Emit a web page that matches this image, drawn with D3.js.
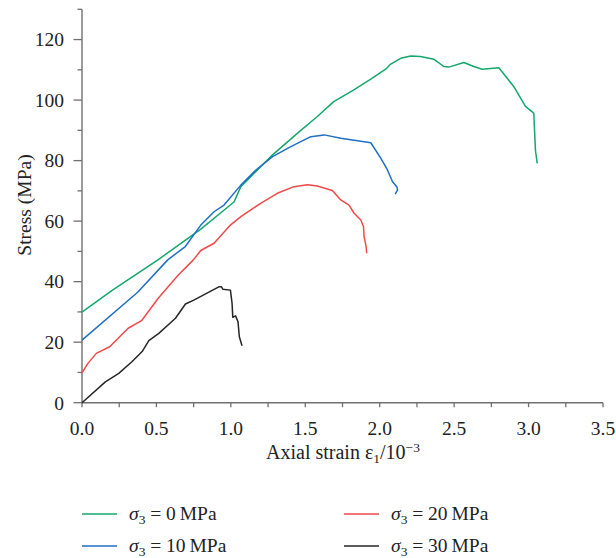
<!DOCTYPE html>
<html>
<head>
<meta charset="utf-8">
<script src="https://cdn.jsdelivr.net/npm/d3@7"></script>
<style>
  html, body { margin: 0; padding: 0; background: #fff; }
  svg { display: block; }
  text { font-family: "Liberation Serif", "DejaVu Serif", serif; fill: #222; }
</style>
</head>
<body>
<svg id="chart" width="616" height="558"></svg>
<script>
// Axial strain (10^-3) and stress (MPa) for each confining pressure
const strain0  = [0, 0.2, 0.51, 0.796, 0.988, 1.022, 1.067, 1.28, 1.468, 1.579, 1.691, 1.826, 1.94, 2.04, 2.074, 2.141, 2.208, 2.274, 2.363, 2.386, 2.43, 2.464, 2.565, 2.632, 2.688, 2.8, 2.9, 2.979, 3.035, 3.046, 3.058];
const stress0  = [29.9, 37.0, 47.2, 57.3, 65.0, 66.4, 71.4, 81.9, 89.9, 94.5, 99.5, 103.4, 106.9, 110.2, 111.9, 113.8, 114.6, 114.4, 113.5, 112.7, 111.1, 110.9, 112.4, 111.1, 110.2, 110.7, 104.5, 97.9, 95.7, 83.5, 79.1];

const strain10 = [0, 0.374, 0.576, 0.694, 0.798, 0.887, 0.954, 1.067, 1.168, 1.28, 1.403, 1.537, 1.627, 1.739, 1.94, 2.007, 2.052, 2.086, 2.115, 2.12, 2.104];
const stress10 = [20.7, 36.5, 47.2, 51.6, 58.7, 63.1, 65.3, 71.9, 76.9, 81.3, 84.6, 87.9, 88.5, 87.4, 85.9, 80.8, 76.9, 73.0, 71.4, 70.3, 68.9];

const strain20 = [0, 0.04, 0.096, 0.186, 0.31, 0.4, 0.512, 0.647, 0.748, 0.798, 0.887, 0.997, 1.067, 1.2, 1.312, 1.424, 1.514, 1.58, 1.682, 1.738, 1.794, 1.828, 1.873, 1.891, 1.895, 1.907, 1.913];
const stress20 = [9.9, 13.0, 16.3, 18.5, 24.6, 27.1, 34.5, 42.2, 47.2, 50.3, 52.7, 58.7, 61.5, 65.9, 69.2, 71.4, 72.0, 71.6, 70.1, 67.0, 65.3, 62.6, 60.4, 58.2, 54.9, 52.1, 49.4];

const strain30 = [0, 0.157, 0.247, 0.337, 0.404, 0.449, 0.516, 0.628, 0.695, 0.751, 0.919, 0.937, 0.946, 0.997, 1.008, 1.013, 1.031, 1.048, 1.057, 1.075];
const stress30 = [0, 6.9, 9.7, 13.6, 16.9, 20.5, 22.9, 27.9, 32.6, 33.9, 38.3, 38.3, 37.5, 37.2, 32.9, 28.2, 28.7, 26.8, 21.8, 18.8];

const pressures = [0, 10, 20, 30];
const colors = ["#14a86c", "#1f6fc4", "#f04a4a", "#262626"];

const xTicksMajor = [0, 0.5, 1.0, 1.5, 2.0, 2.5, 3.0, 3.5];
const yTicksMajor = [0, 20, 40, 60, 80, 100, 120];

const series = [
  { p: pressures[0], x: strain0,  y: stress0,  color: colors[0] },
  { p: pressures[1], x: strain10, y: stress10, color: colors[1] },
  { p: pressures[2], x: strain20, y: stress20, color: colors[2] },
  { p: pressures[3], x: strain30, y: stress30, color: colors[3] }
];

const svg = d3.select("#chart");
const x = d3.scaleLinear().domain([0, 3.5]).range([82, 603]);
const y = d3.scaleLinear().domain([0, 130]).range([402.7, 9.3]);
const axisColor = "#707070";

// X axis
const gx = svg.append("g").attr("transform", `translate(0,${y(0)})`);
gx.append("line").attr("x1", x(0)).attr("x2", x(3.5)).attr("stroke", axisColor).attr("stroke-width", 1.4);
gx.selectAll("line.tick").data(d3.range(0, 3.51, 0.25)).join("line")
  .attr("class", "tick")
  .attr("x1", d => x(d)).attr("x2", d => x(d))
  .attr("y1", 0).attr("y2", 4.5)
  .attr("stroke", axisColor).attr("stroke-width", 1.3);
gx.selectAll("text").data(xTicksMajor).join("text")
  .attr("x", d => x(d)).attr("y", 32)
  .attr("text-anchor", "middle")
  .attr("font-size", 19.5)
  .text(d => d3.format(".1f")(d));

// Y axis
const gy = svg.append("g").attr("transform", `translate(${x(0)},0)`);
gy.append("line").attr("y1", y(0)).attr("y2", y(130)).attr("stroke", axisColor).attr("stroke-width", 1.4);
gy.selectAll("line.tick").data(d3.range(0, 131, 10)).join("line")
  .attr("class", "tick")
  .attr("y1", d => y(d)).attr("y2", d => y(d))
  .attr("x1", d => d % 20 === 0 ? -8.5 : -4.5).attr("x2", 0)
  .attr("stroke", axisColor).attr("stroke-width", 1.3);
gy.selectAll("text").data(yTicksMajor).join("text")
  .attr("x", -18).attr("y", d => y(d))
  .attr("dy", "0.35em")
  .attr("text-anchor", "end")
  .attr("font-size", 19.5)
  .text(d => d);

// Axis titles
const xt = svg.append("text")
  .attr("x", 343).attr("y", 459)
  .attr("text-anchor", "middle")
  .attr("font-size", 20);
xt.append("tspan").text("Axial strain ε");
xt.append("tspan").attr("font-size", 13.5).attr("dy", 4).text("1");
xt.append("tspan").attr("dy", -4).text("/10");
xt.append("tspan").attr("font-size", 13.5).attr("dy", -7).text("−3");

svg.append("text")
  .attr("transform", `translate(31,205) rotate(-90)`)
  .attr("text-anchor", "middle")
  .attr("font-size", 19.5)
  .text("Stress (MPa)");

// Curves
const line = d3.line().x(d => x(d[0])).y(d => y(d[1]));
svg.append("g").selectAll("path").data(series).join("path")
  .attr("d", s => line(s.x.map((v, i) => [v, s.y[i]])))
  .attr("fill", "none")
  .attr("stroke", s => s.color)
  .attr("stroke-width", 1.5)
  .attr("stroke-linejoin", "round");

// Legend (two columns, two rows)
const legendPos = [[82, 514], [82, 546], [344, 514], [344, 546]];
const lg = svg.append("g").selectAll("g").data(series).join("g")
  .attr("transform", (s, i) => `translate(${legendPos[i][0]},${legendPos[i][1]})`);
lg.append("line").attr("x1", 0).attr("x2", 35)
  .attr("stroke", s => s.color).attr("stroke-width", 1.5);
const lt = lg.append("text").attr("x", 47).attr("y", 6).attr("font-size", 19.5);
lt.append("tspan").attr("font-style", "italic").text("σ");
lt.append("tspan").attr("font-size", 13.5).attr("dy", 4).text("3");
lt.append("tspan").attr("dy", -4).text(s => ` = ${s.p}\u2009MPa`);
</script>
</body>
</html>
